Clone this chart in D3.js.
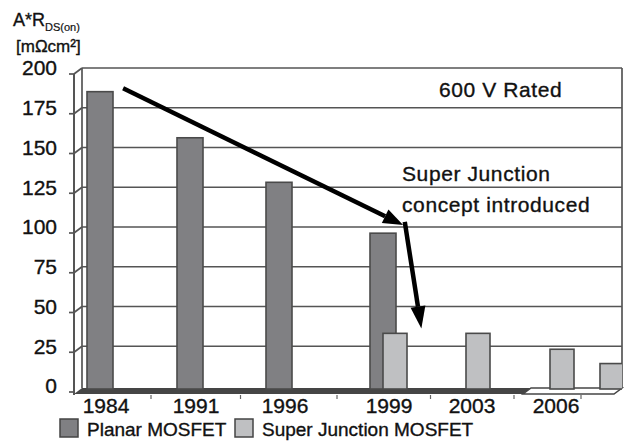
<!DOCTYPE html>
<html>
<head>
<meta charset="UTF-8" />
<title>A*RDS(on) 600 V</title>
<script src="https://d3js.org/d3.v7.min.js"></script>
<style>
  body { margin: 0; background: #fff; }
  svg text { font-family: "Liberation Sans", Arial, Helvetica, sans-serif; fill: #111; stroke: #111; stroke-width: 0.35px; }
  .wall { stroke: #555; stroke-width: 1.7; fill: none; }
  .bar-p { fill: #808083; stroke: #4a4a4a; stroke-width: 1.6; }
  .bar-s { fill: #bfc0c2; stroke: #4a4a4a; stroke-width: 1.6; }
  .arrow { stroke: #000; stroke-width: 4.5; fill: none; }
  .note { font-size: 21px; letter-spacing: 0.6px; }
</style>
</head>
<body>
<script>
var width = 625, height = 441;

// data (last slot is cut off, no label)
var years = ["1984", "1991", "1996", "1999", "2003", "2006", ""];
var planar = [187, 158, 130, 98, null, null, null];
var superJunction = [null, null, null, 35, 35, 25, 16];
var yTicks = [0, 25, 50, 75, 100, 125, 150, 175, 200];
var seriesNames = ["Planar MOSFET", "Super Junction MOSFET"];
// arrows in data space: [slot index, value]
var trendArrow = [[0.19, 191], [3.17, 105]];
var dropArrow = [[3.19, 107], [3.39, 40]];

var svg = d3.select("body").append("svg").attr("width", width).attr("height", height);

// 3d-ish frame
var depth = { dx: 8, dy: -6 };
var axisX = 74, wallRight = 622;
var slotX = [106, 196, 285, 389, 472, 556, 606];
var x = d3.scaleLinear().domain(d3.range(years.length)).range(slotX);
var yFront = d3.scaleLinear().domain([0, 200]).range([392, 74]);
var yBack = function(v) { return yFront(v) + depth.dy; };
var yBar = function(v) { return yFront(v) - 3; };
var floorFront = yFront(0) + 2, floorBack = yBack(0) + 2;

// floor: dark part, then the white piece at the right end
var floorSplit = 523;
svg.append("polygon")
  .attr("points", [[axisX, floorFront], [axisX + depth.dx, floorBack], [floorSplit + depth.dx, floorBack], [floorSplit, floorFront]].join(" "))
  .attr("fill", "#454545");
svg.append("polygon")
  .attr("points", [[floorSplit, floorFront], [floorSplit + depth.dx, floorBack], [wallRight, floorBack], [wallRight - depth.dx, floorFront]].join(" "))
  .attr("fill", "#fff").attr("stroke", "#454545").attr("stroke-width", 1.5);

// gridlines on back + side wall, outer ticks
var g = svg.append("g").attr("class", "wall");
yTicks.forEach(function(v) {
  if (v > 0) {
    g.append("line").attr("x1", axisX + depth.dx).attr("x2", wallRight)
      .attr("y1", yBack(v)).attr("y2", yBack(v));
    g.append("line").attr("x1", axisX).attr("x2", axisX + depth.dx)
      .attr("y1", yFront(v)).attr("y2", yBack(v));
  }
  g.append("line").attr("x1", axisX - 5).attr("x2", axisX)
    .attr("y1", yFront(v)).attr("y2", yFront(v));
});
g.append("line").attr("x1", axisX + depth.dx).attr("x2", axisX + depth.dx)
  .attr("y1", yBack(200)).attr("y2", floorBack);
g.append("line").attr("x1", wallRight).attr("x2", wallRight)
  .attr("y1", yBack(200)).attr("y2", floorBack);
g.append("line").attr("x1", axisX).attr("x2", axisX)
  .attr("y1", yFront(200)).attr("y2", floorFront + 1).attr("stroke-width", 2);

// bars
svg.append("clipPath").attr("id", "plot")
  .append("rect").attr("x", axisX).attr("y", 0).attr("width", wallRight - axisX).attr("height", height);
var bars = svg.append("g").attr("clip-path", "url(#plot)");
var pw = 26, sw = 24;
bars.selectAll(".bar-p").data(planar.map(function(v, i) { return { i: i, v: v }; }).filter(function(d) { return d.v != null; }))
  .enter().append("rect").attr("class", "bar-p")
  .attr("x", function(d) { return x(d.i) - 6 - pw / 2; })
  .attr("width", pw)
  .attr("y", function(d) { return yBar(d.v); })
  .attr("height", function(d) { return yBar(0) - yBar(d.v); });
bars.selectAll(".bar-s").data(superJunction.map(function(v, i) { return { i: i, v: v }; }).filter(function(d) { return d.v != null; }))
  .enter().append("rect").attr("class", "bar-s")
  .attr("x", function(d) { return x(d.i) + 6 - sw / 2; })
  .attr("width", sw)
  .attr("y", function(d) { return yBar(d.v); })
  .attr("height", function(d) { return yBar(0) - yBar(d.v); });

// x axis ticks + labels
for (var i = 0; i < years.length - 1; i++) {
  var mx = (x(i) + x(i + 1)) / 2;
  svg.append("line").attr("x1", mx).attr("x2", mx).attr("y1", floorFront + 1).attr("y2", floorFront + 5)
    .attr("stroke", "#666").attr("stroke-width", 1.2);
}
svg.selectAll(".xl").data(years).enter().append("text")
  .attr("x", function(d, i) { return x(i); })
  .attr("y", 413).attr("text-anchor", "middle").style("font-size", "21px")
  .text(function(d) { return d; });

// y labels
svg.selectAll(".yl").data(yTicks).enter().append("text")
  .attr("x", 57).attr("y", function(d) { return yBack(d); }).attr("dy", "0.35em")
  .attr("text-anchor", "end").style("font-size", "21px")
  .text(function(d) { return d; });

// axis title
var t = svg.append("text").attr("x", 13).attr("y", 26).style("font-size", "18px");
t.append("tspan").text("A*R");
t.append("tspan").attr("dy", 5).style("font-size", "11px").style("stroke-width", "0.2px").text("DS(on)");
svg.append("text").attr("x", 16).attr("y", 52).style("font-size", "17px").text("[m\u03A9cm\u00B2]");

// notes
svg.append("text").attr("class", "note").attr("x", 439).attr("y", 97).text("600 V Rated");
svg.append("text").attr("class", "note").attr("x", 402).attr("y", 181).text("Super Junction");
svg.append("text").attr("class", "note").attr("x", 402).attr("y", 212).text("concept introduced");

// arrows
function arrow(pts, headLen, headW) {
  var p0 = [x(pts[0][0]), yFront(pts[0][1])], p1 = [x(pts[1][0]), yFront(pts[1][1])];
  var ang = Math.atan2(p1[1] - p0[1], p1[0] - p0[0]);
  var bx = p1[0] - headLen * Math.cos(ang), by = p1[1] - headLen * Math.sin(ang);
  svg.append("line").attr("class", "arrow")
    .attr("x1", p0[0]).attr("y1", p0[1]).attr("x2", bx).attr("y2", by);
  var nx = -Math.sin(ang) * headW / 2, ny = Math.cos(ang) * headW / 2;
  svg.append("polygon").attr("fill", "#000")
    .attr("points", [[p1[0], p1[1]], [bx + nx, by + ny], [bx - nx, by - ny]].join(" "));
}
arrow(trendArrow, 20, 15);
arrow(dropArrow, 22, 15);

// legend
var colors = ["#808083", "#bfc0c2"];
var legX = [60, 235];
seriesNames.forEach(function(name, i) {
  svg.append("rect").attr("x", legX[i]).attr("y", 419).attr("width", 18).attr("height", 18)
    .attr("fill", colors[i]).attr("stroke", "#444").attr("stroke-width", 1.5);
  svg.append("text").attr("x", legX[i] + 27).attr("y", 436)
    .style("font-family", "'Liberation Sans Narrow', 'Liberation Sans', Arial, sans-serif")
    .style("font-size", "19px").text(name);
});
</script>
</body>
</html>
